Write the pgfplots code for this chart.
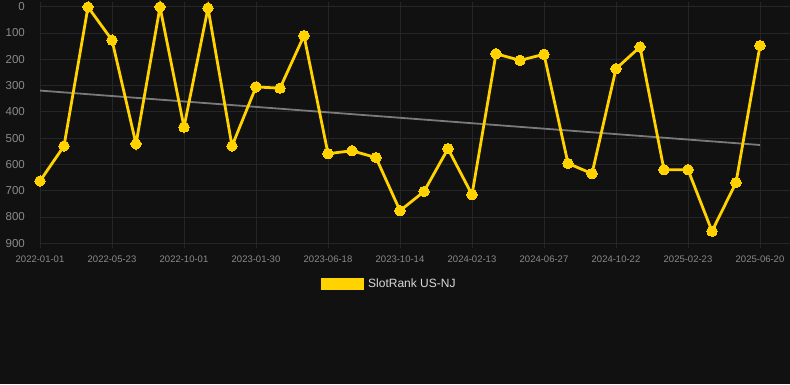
\documentclass[border=0pt]{standalone}
\usepackage{fontspec}
\setmainfont{Liberation Sans}
\usepackage{pgfplots}
\pgfplotsset{compat=1.18}
\definecolor{bg}{HTML}{111111}
\definecolor{gridc}{HTML}{262626}
\definecolor{ticklab}{HTML}{8A8A8A}
\definecolor{gold}{RGB}{255,210,0}
\definecolor{trend}{HTML}{7A7A7A}
\begin{document}
\begin{tikzpicture}[x=1pt,y=1pt]
\fill[bg] (0,0) rectangle (790,384);
\useasboundingbox (0,0) rectangle (790,384);
\begin{axis}[
  at={(40pt,140.7pt)}, anchor=south west,
  scale only axis, width=750pt, height=236.6pt,
  xmin=0, xmax=31.25, ymin=0, ymax=900,
  y dir=reverse,
  clip=false,
  axis line style={draw=none},
  xtick={0,3,...,30},
  xticklabels={2022-01-01,2022-05-23,2022-10-01,2023-01-30,2023-06-18,2023-10-14,2024-02-13,2024-06-27,2024-10-22,2025-02-23,2025-06-20},
  ytick={0,100,...,900},
  grid=major,
  major grid style={gridc, line width=0.8pt},
  tick align=outside,
  major tick length=5pt,
  xtick style={gridc, line width=0.8pt},
  ytick style={draw=none},
  xticklabel style={font=\fontsize{9.5}{10}\selectfont, text=ticklab, inner sep=0pt, anchor=center, yshift=-11pt},
  yticklabel style={font=\fontsize{11.5}{12}\selectfont, text=ticklab, inner sep=0pt, anchor=east, xshift=-10pt},
  /pgf/number format/assume math mode=true,
  yticklabel={\pgfmathprintnumber[fixed,precision=0,1000 sep={}]{\tick}},
  legend style={at={(0.466,-0.172)}, anchor=center, draw=none, fill=none,
    text=white!85!black, font=\fontsize{12}{13}\selectfont, inner sep=0pt},
  legend image code/.code={\fill[gold] (0pt,-5pt) rectangle (40pt,5pt);},
]
\addplot[trend, line width=1.8pt, forget plot] coordinates {(0,319) (30,526)};
\addplot[gold, line width=2.8pt, mark=*, mark size=5.2pt, mark options={fill=gold, draw=gold, line width=0pt}] coordinates {
(0,663) (1,530) (2,1) (3,127) (4,522) (5,1) (6,458) (7,5) (8,530) (9,305)
(10,310) (11,110) (12,559) (13,548) (14,574) (15,776) (16,703) (17,540) (18,715) (19,179)
(20,204) (21,181) (22,596) (23,635) (24,236) (25,153) (26,620) (27,620) (28,854) (29,669)
(30,148)};
\addlegendentry{\hspace{2pt}SlotRank US-NJ}
\end{axis}
\end{tikzpicture}
\end{document}
